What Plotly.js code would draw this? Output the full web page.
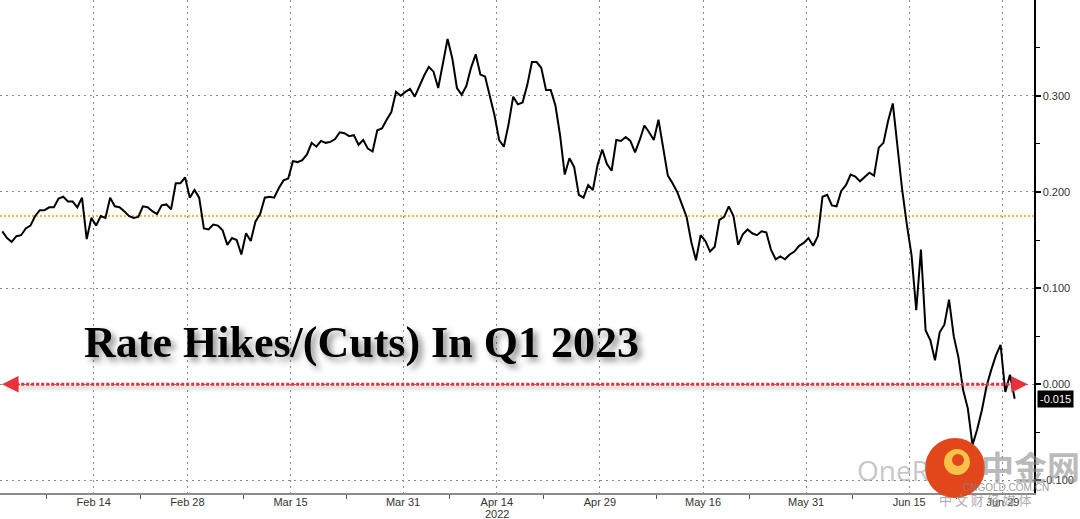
<!DOCTYPE html>
<html>
<head>
<meta charset="utf-8">
<script src="https://cdn.plot.ly/plotly-3.0.1.min.js"></script>
<style>
  html, body { margin: 0; padding: 0; background: #ffffff; }
  #chart { width: 1080px; height: 519px; }
</style>
</head>
<body>
<div id="chart"></div>
<script>
// ---- Data ----
const tradingDays = [
  '2022-01-31','2022-02-01','2022-02-02','2022-02-03','2022-02-04',
  '2022-02-07','2022-02-08','2022-02-09','2022-02-10','2022-02-11',
  '2022-02-14','2022-02-15','2022-02-16','2022-02-17','2022-02-18',
  '2022-02-21','2022-02-22','2022-02-23','2022-02-24','2022-02-25',
  '2022-02-28','2022-03-01','2022-03-02','2022-03-03','2022-03-04',
  '2022-03-07','2022-03-08','2022-03-09','2022-03-10','2022-03-11',
  '2022-03-14','2022-03-15','2022-03-16','2022-03-17','2022-03-18',
  '2022-03-21','2022-03-22','2022-03-23','2022-03-24','2022-03-25',
  '2022-03-28','2022-03-29','2022-03-30','2022-03-31','2022-04-01',
  '2022-04-04','2022-04-05','2022-04-06','2022-04-07','2022-04-08',
  '2022-04-11','2022-04-12','2022-04-13','2022-04-14','2022-04-15',
  '2022-04-18','2022-04-19','2022-04-20','2022-04-21','2022-04-22',
  '2022-04-25','2022-04-26','2022-04-27','2022-04-28','2022-04-29',
  '2022-05-02','2022-05-03','2022-05-04','2022-05-05','2022-05-06',
  '2022-05-09','2022-05-10','2022-05-11','2022-05-12','2022-05-13',
  '2022-05-16','2022-05-17','2022-05-18','2022-05-19','2022-05-20',
  '2022-05-23','2022-05-24','2022-05-25','2022-05-26','2022-05-27',
  '2022-05-30','2022-05-31','2022-06-01','2022-06-02','2022-06-03',
  '2022-06-06','2022-06-07','2022-06-08','2022-06-09','2022-06-10',
  '2022-06-13','2022-06-14','2022-06-15','2022-06-16','2022-06-17',
  '2022-06-20','2022-06-21','2022-06-22','2022-06-23','2022-06-24',
  '2022-06-27','2022-06-28','2022-06-29','2022-06-30'
];
// morning reading of each session
const valueAM = [
  0.159,0.148,0.155,0.165,0.181,
  0.184,0.193,0.190,0.184,0.151,
  0.165,0.173,0.185,0.180,0.173,
  0.185,0.180,0.186,0.182,0.209,
  0.194,0.194,0.161,0.165,0.145,
  0.150,0.157,0.169,0.194,0.194,
  0.212,0.232,0.233,0.251,0.253,
  0.252,0.262,0.258,0.249,0.245,
  0.264,0.275,0.304,0.304,0.299,
  0.321,0.325,0.335,0.339,0.301,
  0.329,0.322,0.300,0.254,0.270,
  0.291,0.311,0.335,0.306,0.290,
  0.218,0.226,0.194,0.202,0.244,
  0.222,0.253,0.253,0.254,0.262,
  0.275,0.217,0.200,0.174,0.129,
  0.149,0.143,0.174,0.175,0.156,
  0.157,0.159,0.140,0.133,0.135,
  0.144,0.152,0.154,0.197,0.185,
  0.207,0.216,0.215,0.217,0.251,
  0.292,0.202,0.134,0.140,0.046,
  0.054,0.088,0.028,-0.025,-0.047,
  -0.002,0.030,-0.008,-0.015
];
// afternoon reading of each session
const valuePM = [
  0.152,0.154,0.162,0.175,0.181,
  0.184,0.195,0.190,0.194,0.173,
  0.175,0.194,0.184,0.175,0.174,
  0.184,0.177,0.187,0.209,0.215,
  0.202,0.162,0.166,0.160,0.152,
  0.135,0.149,0.177,0.195,0.204,
  0.214,0.231,0.239,0.247,0.251,
  0.255,0.261,0.259,0.254,0.242,
  0.266,0.283,0.300,0.307,0.310,
  0.330,0.308,0.359,0.308,0.310,
  0.343,0.320,0.280,0.247,0.299,
  0.293,0.335,0.329,0.306,0.259,
  0.235,0.197,0.207,0.228,0.229,
  0.254,0.257,0.241,0.269,0.254,
  0.244,0.209,0.187,0.148,0.155,
  0.138,0.171,0.185,0.145,0.161,
  0.155,0.158,0.130,0.130,0.138,
  0.147,0.144,0.195,0.186,0.201,
  0.218,0.211,0.220,0.246,0.274,
  0.244,0.166,0.077,0.056,0.025,
  0.062,0.050,-0.006,-0.063,-0.027,
  0.015,0.041,0.010,null
];

const xTickVals  = ['2022-02-14','2022-02-28','2022-03-15','2022-03-31','2022-04-14','2022-04-29','2022-05-16','2022-05-31','2022-06-15','2022-06-29'];
const xTickText  = ['Feb 14','Feb 28','Mar 15','Mar 31','Apr 14','Apr 29','May 16','May 31','Jun 15','Jun 29'];
const yearLabel = '2022';
const yearLabelAt = '2022-04-14';
const xMinorTicks = ['2022-02-07','2022-02-21','2022-03-08','2022-03-23','2022-04-07','2022-04-21','2022-05-09','2022-05-23','2022-06-07','2022-06-22'];
const yTickVals  = [-0.1, 0, 0.1, 0.2, 0.3];
const yTickText  = ['-0.100','0.000','0.100','0.200','0.300'];
const yMinorTicks = [-0.05, 0.05, 0.15, 0.25, 0.35];
const orangeLevel = 0.175;
const zeroLevel = 0;
const titleText = 'Rate Hikes/(Cuts) In Q1 2023';
const xRange = ['2022-01-31 00:00', '2022-07-04 07:30'];
const yRange = [-0.113, 0.3995];

// ---- Build the trace ----
const xs = [], ys = [];
tradingDays.forEach((d, i) => {
  if (valueAM[i] != null) { xs.push(d + ' 06:00'); ys.push(valueAM[i]); }
  if (valuePM[i] != null) { xs.push(d + ' 18:00'); ys.push(valuePM[i]); }
});
const lastValue = ys[ys.length - 1];

const RED = '#e8313a';

const data = [{
  type: 'scatter', mode: 'lines', x: xs, y: ys,
  line: { color: '#000000', width: 2 },
  hoverinfo: 'skip', showlegend: false
}];

const wm = (x, y, text, font) => ({
  xref: 'paper', yref: 'paper', x: x, y: y, xanchor: 'center', yanchor: 'middle',
  text: text, showarrow: false, font: font
});

const layout = {
  width: 1080, height: 519,
  margin: { l: 0, r: 46, t: 0, b: 26, pad: 0 },
  paper_bgcolor: '#ffffff', plot_bgcolor: '#ffffff',
  showlegend: false,
  font: { family: 'Liberation Sans, Arial, sans-serif', size: 11, color: '#333333' },
  xaxis: {
    type: 'date', range: xRange,
    rangebreaks: [{ bounds: ['sat', 'mon'] }],
    tickmode: 'array', tickvals: xTickVals, ticktext: xTickText,
    ticks: '', ticklabelstandoff: -2,
    showgrid: true, gridcolor: '#8a8a8a', gridwidth: 1, griddash: '2px,4px',
    showline: true, linecolor: '#8c8c8c', linewidth: 2, zeroline: false,
    minor: { tickvals: xMinorTicks, ticks: 'outside', ticklen: 4, tickwidth: 1, tickcolor: '#555555', showgrid: false },
    tickfont: { size: 11, color: '#333333' }, fixedrange: true
  },
  yaxis: {
    side: 'right', range: yRange,
    tickmode: 'array', tickvals: yTickVals, ticktext: yTickText,
    ticks: 'outside', ticklen: 5, tickwidth: 2, tickcolor: '#000000',
    showgrid: true, gridcolor: '#8a8a8a', gridwidth: 1, griddash: '2px,4px',
    showline: true, linecolor: '#000000', linewidth: 1.5, zeroline: false,
    minor: { tickvals: yMinorTicks, ticks: 'outside', ticklen: 4, tickwidth: 1, tickcolor: '#000000', showgrid: false },
    tickfont: { size: 11, color: '#333333' }, fixedrange: true
  },
  shapes: [
    { type: 'line', xref: 'paper', x0: 0, x1: 1, yref: 'y', y0: orangeLevel, y1: orangeLevel,
      line: { color: '#f0a30a', width: 1.6, dash: '2px,2px' }, layer: 'below' },
    { type: 'line', xref: 'paper', x0: 0.006, x1: 0.988, yref: 'y', y0: zeroLevel, y1: zeroLevel,
      line: { color: RED, width: 3, dash: '3px,2px' }, layer: 'above' },
    // watermark logo
    { type: 'circle', xref: 'paper', yref: 'paper', x0: 0.8946, x1: 0.9526, y0: -0.0101, y1: 0.1116,
      fillcolor: '#e2461b', line: { width: 0 }, layer: 'above' },
    { type: 'circle', xref: 'paper', yref: 'paper', x0: 0.913, x1: 0.938, y0: 0.0365, y1: 0.0892,
      fillcolor: '#f7c24a', line: { width: 0 }, layer: 'above' },
    { type: 'circle', xref: 'paper', yref: 'paper', x0: 0.9207, x1: 0.9323, y0: 0.0548, y1: 0.0791,
      fillcolor: '#e2461b', line: { width: 0 }, layer: 'above' }
  ],
  annotations: [
    { xref: 'paper', yref: 'paper', x: 0.35, y: 0.305, xanchor: 'center', yanchor: 'middle',
      text: '<b>' + titleText + '</b>', showarrow: false,
      font: { family: 'Liberation Serif, Times New Roman, serif', size: 44, color: '#000000' } },
    { xref: 'x', yref: 'paper', x: yearLabelAt, y: -0.043, xanchor: 'center', yanchor: 'middle',
      text: yearLabel, showarrow: false, font: { size: 11, color: '#333333' } },
    { xref: 'paper', yref: 'y', x: 0.002, y: zeroLevel, ax: 12, ay: 0, text: '', showarrow: true,
      arrowhead: 2, arrowsize: 1.1, arrowwidth: 3, arrowcolor: RED },
    { xref: 'paper', yref: 'y', x: 0.994, y: zeroLevel, ax: -12, ay: 0, text: '', showarrow: true,
      arrowhead: 2, arrowsize: 1.1, arrowwidth: 3, arrowcolor: RED },
    { xref: 'paper', yref: 'y', x: 1, y: lastValue, xanchor: 'left', xshift: 3, yanchor: 'middle',
      text: lastValue.toFixed(3), showarrow: false, bgcolor: '#000000', borderpad: 2,
      font: { family: 'Liberation Sans, Arial, sans-serif', size: 11, color: '#ffffff' } },
    // watermark texts
    wm(0.864, 0.047, 'OneR', { family: 'Open Sans, Liberation Sans, sans-serif', size: 28, color: 'rgba(150,150,150,0.55)' }),
    wm(0.997, 0.055, '<b>中金网</b>', { family: 'Noto Sans CJK SC, sans-serif', size: 33, color: 'rgba(140,140,140,0.6)' }),
    wm(0.973, 0.012, 'CNGOLD.COM.CN', { family: 'Liberation Sans, Arial, sans-serif', size: 10, color: 'rgba(130,130,130,0.8)' }),
    wm(0.953, -0.014, '中 文 财 经 媒 体', { family: 'Noto Sans CJK SC, sans-serif', size: 13, color: 'rgba(150,150,150,0.8)' })
  ]
};

Plotly.newPlot('chart', data, layout, { staticPlot: true, displayModeBar: false }).then(gd => {
  gd.querySelectorAll('.annotation-text').forEach(t => {
    if (t.textContent === titleText) {
      t.style.filter = 'drop-shadow(4px 4px 3px rgba(0,0,0,0.45))';
    }
  });
  gd.querySelectorAll('.shapelayer path').forEach(p => {
    const s = (p.style.stroke || '').replace(/\s/g, '');
    if (s === 'rgb(232,49,58)') {
      p.style.filter = 'drop-shadow(0px 3px 2px rgba(0,0,0,0.35))';
    }
  });
});
</script>
</body>
</html>
